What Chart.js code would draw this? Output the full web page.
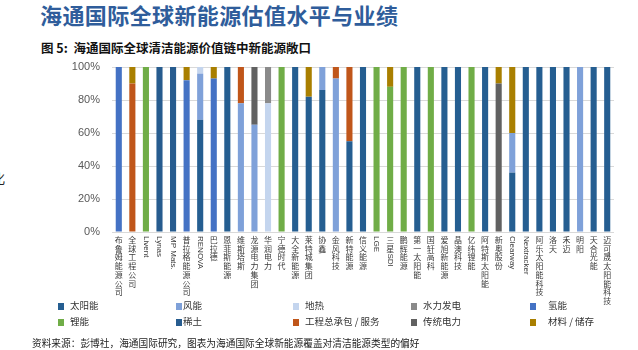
<!DOCTYPE html>
<html lang="zh-CN">
<head>
<meta charset="utf-8">
<title>海通国际全球清洁能源价值链中新能源敞口</title>
<script src="https://cdn.jsdelivr.net/npm/chart.js@4.4.1/dist/chart.umd.min.js"></script>
<style>
  body { margin: 0; background: #fff; font-family: "Noto Sans CJK SC", sans-serif; }
  #wrap { position: relative; width: 638px; height: 350px; overflow: hidden; }
  #chart { position: absolute; left: 0; top: 0; }
  .title { position: absolute; left: 40px; top: 0px; font-size: 22px; line-height: 28px; font-weight: bold; color: #2F5D9B; letter-spacing: 0.4px; }
  .subtitle { position: absolute; left: 41px; top: 39px; font-size: 12.5px; line-height: 17px; font-weight: bold; color: #111; }
  .edge { position: absolute; left: -8px; top: 168px; font-size: 13px; color: #222; }
  .legend-item { position: absolute; font-size: 9.5px; color: #333; white-space: nowrap; line-height: 12px; }
  .legend-item i { display: inline-block; width: 6px; height: 7px; vertical-align: -1px; }
  .source { position: absolute; left: 32px; top: 337px; font-size: 9.7px; line-height: 13px; color: #222; }
</style>
</head>
<body>
<div id="wrap">
  <div class="title">海通国际全球新能源估值水平与业绩</div>
  <div class="subtitle">图 5:&nbsp; 海通国际全球清洁能源价值链中新能源敞口</div>
  <div class="edge">化</div>
  <canvas id="chart" width="638" height="350"></canvas>
  <div id="legend"></div>
  <div class="source">资料来源：彭博社，海通国际研究，图表为海通国际全球新能源覆盖对清洁能源类型的偏好</div>
</div>
<script>
// 公司（横轴）
const companies = [
  '布鲁姆能源公司', '全球工程公司', 'Livent', 'Lynas', 'MP Mats.', '普拉格能源公司', 'RENOVA', '巴拉德',
  '恩菲斯能源', '维斯塔斯', '龙源电力集团', '华润电力', '宁德时代', '大全新能源', '莱特城集团', '协鑫',
  '金风科技', '新特能源', '信义能源', 'LGE', '三星 SDI', '鹏辉能源', '第一太阳能', '国轩高科',
  '爱旭新能源', '晶澳科技', '亿纬锂能', '阿特斯太阳能', '新奥股份', 'Clearway', 'Nextracker', '阿乐太阳能科技',
  '洛天', '禾迈', '明阳', '天合光能', '迈可晟太阳能科技'
];

// 各类型占比 (%)
const solar      = [0, 0, 0, 0, 0, 0, 68, 0, 100, 0, 0, 0, 0, 100, 82, 86, 0, 55, 100, 0, 0, 0, 100, 0, 100, 100, 0, 100, 0, 36, 100, 100, 100, 100, 0, 100, 100];
const wind       = [0, 0, 0, 0, 0, 0, 28, 0, 0, 78, 65, 0, 0, 0, 0, 14, 93, 0, 0, 0, 0, 0, 0, 0, 0, 0, 0, 0, 0, 24, 0, 0, 0, 0, 100, 0, 0];
const geothermal = [0, 0, 0, 0, 0, 0, 4, 0, 0, 0, 0, 78, 0, 0, 0, 0, 0, 0, 0, 0, 0, 0, 0, 0, 0, 0, 0, 0, 0, 0, 0, 0, 0, 0, 0, 0, 0];
const hydro      = [0, 0, 0, 0, 0, 0, 0, 0, 0, 0, 0, 22, 0, 0, 0, 0, 0, 0, 0, 0, 0, 0, 0, 0, 0, 0, 0, 0, 0, 0, 0, 0, 0, 0, 0, 0, 0];
const hydrogen   = [100, 0, 0, 0, 0, 92, 0, 93, 0, 0, 0, 0, 0, 0, 0, 0, 0, 0, 0, 0, 0, 0, 0, 0, 0, 0, 0, 0, 0, 0, 0, 0, 0, 0, 0, 0, 0];
const lithium    = [0, 0, 100, 0, 0, 0, 0, 0, 0, 0, 0, 0, 100, 0, 0, 0, 0, 0, 0, 100, 88, 100, 0, 100, 0, 0, 100, 0, 0, 0, 0, 0, 0, 0, 0, 0, 0];
const rareEarth  = [0, 0, 0, 100, 100, 0, 0, 0, 0, 0, 0, 0, 0, 0, 0, 0, 0, 0, 0, 0, 0, 0, 0, 0, 0, 0, 0, 0, 0, 0, 0, 0, 0, 0, 0, 0, 0];
const epc        = [0, 90, 0, 0, 0, 0, 0, 0, 0, 22, 0, 0, 0, 0, 0, 0, 7, 45, 0, 0, 0, 0, 0, 0, 0, 0, 0, 0, 0, 0, 0, 0, 0, 0, 0, 0, 0];
const thermal    = [0, 0, 0, 0, 0, 0, 0, 0, 0, 0, 35, 0, 0, 0, 0, 0, 0, 0, 0, 0, 0, 0, 0, 0, 0, 0, 0, 0, 90, 0, 0, 0, 0, 0, 0, 0, 0];
const materials  = [0, 10, 0, 0, 0, 8, 0, 7, 0, 0, 0, 0, 0, 0, 18, 0, 0, 0, 0, 0, 12, 0, 0, 0, 0, 0, 0, 0, 10, 40, 0, 0, 0, 0, 0, 0, 0];

const seriesNames = ['太阳能', '风能', '地热', '水力发电', '氢能', '锂能', '稀土', '工程总承包 / 服务', '传统电力', '材料 / 储存'];
const seriesData = [solar, wind, geothermal, hydro, hydrogen, lithium, rareEarth, epc, thermal, materials];
const seriesColors = ['#255E91', '#7FA1D9', '#C4D5EE', '#8A8A8A', '#4472C4', '#70AD47', '#275C8F', '#C0561A', '#616161', '#A97F00'];
const yTicks = [0, 20, 40, 60, 80, 100];

// 图例（两行五列），方块与文字的间距照原图
const legendCols = [58, 176, 293, 411, 530];
const legendRows = [299, 315];
const legendGaps = [6, 1, 6, 6, 12, 6, 1, 6, 6, 12];
const legendEl = document.getElementById('legend');
seriesNames.forEach((name, i) => {
  const d = document.createElement('div');
  d.className = 'legend-item';
  d.style.left = legendCols[i % 5] + 'px';
  d.style.top = legendRows[Math.floor(i / 5)] + 'px';
  d.innerHTML = '<i style="background:' + seriesColors[i] + ';margin-right:' + legendGaps[i] + 'px"></i>' + name;
  legendEl.appendChild(d);
});

// 竖排横轴标签：汉字直立，英文旋转
const verticalLabels = {
  id: 'verticalLabels',
  afterDraw(chart) {
    const ctx = chart.ctx;
    const xs = chart.scales.x;
    ctx.save();
    ctx.fillStyle = '#3a3a3a';
    companies.forEach((name, i) => {
      const x = xs.getPixelForValue(i);
      let y = xs.top + 4;
      const parts = name.match(/[\u3400-\u9fff]|[^\u3400-\u9fff]+/g);
      parts.forEach(p => {
        if (/[\u3400-\u9fff]/.test(p)) {
          ctx.font = '8px "Noto Sans CJK SC"';
          ctx.textAlign = 'center';
          ctx.textBaseline = 'top';
          ctx.fillText(p, x, y);
          y += 8.7;
        } else {
          const t = p.trim();
          if (!t) { y += 2; return; }
          ctx.font = '8px "Liberation Sans"';
          const w = ctx.measureText(t).width;
          ctx.save();
          ctx.translate(x, y);
          ctx.rotate(Math.PI / 2);
          ctx.textAlign = 'left';
          ctx.textBaseline = 'middle';
          ctx.fillText(t, 0, 0);
          ctx.restore();
          y += w + 2;
        }
      });
    });
    ctx.restore();
  }
};

new Chart(document.getElementById('chart').getContext('2d'), {
  type: 'bar',
  data: {
    labels: companies,
    datasets: seriesNames.map((name, i) => ({
      label: name,
      data: seriesData[i],
      backgroundColor: seriesColors[i],
      barPercentage: 0.45,
      categoryPercentage: 1.0
    }))
  },
  options: {
    responsive: false,
    animation: false,
    layout: { padding: { top: 67, right: 24, bottom: 0, left: 0 } },
    plugins: {
      legend: { display: false },
      tooltip: { enabled: false }
    },
    scales: {
      x: {
        stacked: true,
        grid: { display: false },
        border: { display: false },
        ticks: { display: false },
        afterFit: (s) => { s.height = 118; }
      },
      y: {
        stacked: true,
        min: 0,
        max: 100,
        afterBuildTicks: (s) => { s.ticks = yTicks.map(v => ({ value: v })); },
        grid: { color: '#D9D9D9', drawTicks: false },
        border: { display: false },
        ticks: {
          padding: 12,
          color: '#595959',
          font: { family: 'Liberation Sans', size: 11 },
          callback: (v) => v + '%'
        },
        afterFit: (s) => { s.width = 112; }
      }
    }
  },
  plugins: [verticalLabels]
});
</script>
</body>
</html>
